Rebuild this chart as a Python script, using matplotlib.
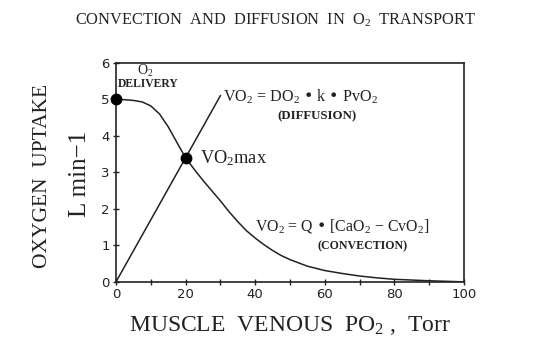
import matplotlib
matplotlib.use("Agg")
import matplotlib.pyplot as plt
from matplotlib.ticker import MultipleLocator

# ── Data ──────────────────────────────────────────────────────────────────────
po2_conv = [0, 2.5, 5, 7.5, 10, 12.5, 15, 17.5, 20, 22.5, 25, 27.5, 30, 32.5,
            35, 37.5, 40, 42.5, 45, 47.5, 50, 55, 60, 65, 70, 75, 80, 85, 90,
            95, 100]
vo2_conv = [5.00, 4.99, 4.97, 4.93, 4.82, 4.60, 4.25, 3.82, 3.40, 3.08, 2.78,
            2.50, 2.22, 1.92, 1.65, 1.40, 1.20, 1.02, 0.86, 0.72, 0.61, 0.43,
            0.31, 0.23, 0.16, 0.11, 0.07, 0.05, 0.03, 0.015, 0.0]

po2_diff = [0, 30]
vo2_diff = [0, 5.1]

marker_x = [0, 20]
marker_y = [5.0, 3.4]

x_ticks = [0, 20, 40, 60, 80, 100]
y_ticks = [0, 1, 2, 3, 4, 5, 6]

# ── Style ─────────────────────────────────────────────────────────────────────
plt.rcParams["font.family"] = "Liberation Serif"
plt.rcParams["mathtext.default"] = "regular"
ink = "#222222"

fig = plt.figure(figsize=(5.37, 3.55), dpi=100)
ax = fig.add_axes([0.216, 0.206, 0.648, 0.617])

ax.plot(po2_conv, vo2_conv, color=ink, lw=1.1)
ax.plot(po2_diff, vo2_diff, color=ink, lw=1.1)
ax.plot(marker_x, marker_y, "o", color="black", ms=7.5, zorder=5, clip_on=False)

ax.set_xlim(0, 100)
ax.set_ylim(0, 6)
ax.set_xticks(x_ticks)
ax.set_yticks(y_ticks)
ax.xaxis.set_minor_locator(MultipleLocator(10))
ax.tick_params(direction="inout", length=5, width=1, colors=ink,
               labelsize=9.5, pad=2)
ax.tick_params(which="minor", direction="inout", length=4, width=1, colors=ink)
for lab in ax.get_xticklabels() + ax.get_yticklabels():
    lab.set_family("DejaVu Sans")
for s in ax.spines.values():
    s.set_linewidth(1.2)
    s.set_color(ink)

# ── Text ──────────────────────────────────────────────────────────────────────
fig.text(0.513, 0.943, "CONVECTION  AND  DIFFUSION  IN  O$_2$  TRANSPORT",
         ha="center", va="center", fontsize=11.8, color=ink)
fig.text(0.079, 0.505, "OXYGEN  UPTAKE", rotation=90, ha="center",
         va="center", fontsize=15.5, color=ink)
fig.text(0.149, 0.51, "L min−1", rotation=90, ha="center",
         va="center", fontsize=18, color=ink)
ax.set_xlabel("MUSCLE  VENOUS  PO$_2$ ,  Torr", fontsize=17, color=ink,
              labelpad=9)

ax.text(8.3, 5.78, "O$_2$", ha="center", va="center", fontsize=10,
        color=ink)
ax.text(9.3, 5.42, "DELIVERY", ha="center", va="center", fontsize=8.4,
        weight="bold", color=ink)
ax.text(30.8, 5.06, "VO$_2$ = DO$_2$ • k • PvO$_2$", ha="left", va="center",
        fontsize=11.6, color=ink)
ax.text(57.8, 4.53, "(DIFFUSION)", ha="center", va="center", fontsize=9.3,
        weight="bold", color=ink)
ax.text(24.0, 3.39, "VO$_2$max", ha="left", va="center", fontsize=13.2,
        color=ink)
ax.text(40.0, 1.53, "VO$_2$ = Q • [CaO$_2$ − CvO$_2$]", ha="left",
        va="center", fontsize=11.4, color=ink)
ax.text(71.0, 0.97, "(CONVECTION)", ha="center", va="center", fontsize=8.6,
        weight="bold", color=ink)

fig.savefig("out.png", dpi=100)
